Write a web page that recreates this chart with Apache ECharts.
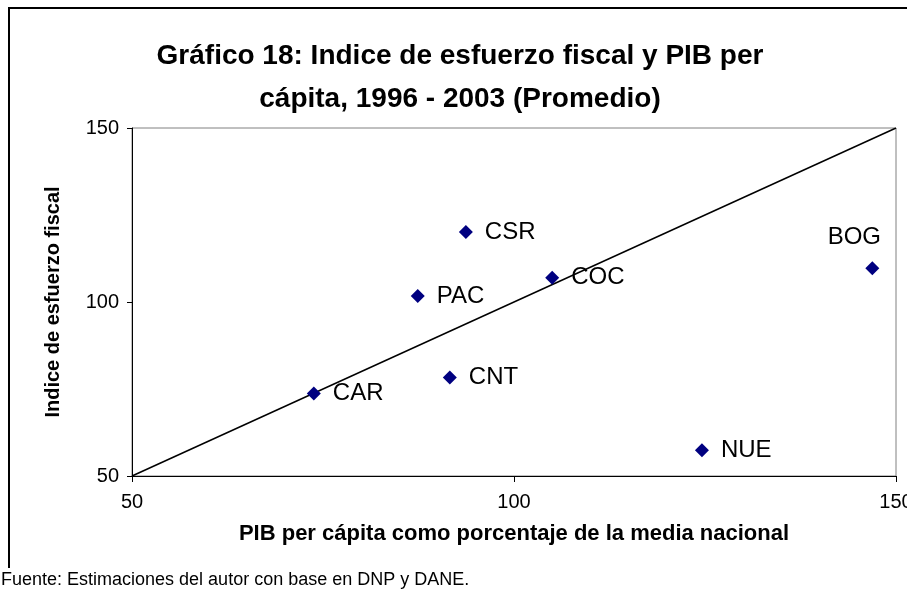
<!DOCTYPE html>
<html>
<head>
<meta charset="utf-8">
<script src="https://cdn.jsdelivr.net/npm/echarts@6/dist/echarts.min.js"></script>
<style>
  html, body { margin: 0; padding: 0; background: #fff; }
  #chart { width: 907px; height: 592px; }
</style>
</head>
<body>
<div id="chart"></div>
<script>
// regiones
const names = ['CAR', 'PAC', 'CSR', 'CNT', 'COC', 'NUE', 'BOG']
// PIB per cápita (% media nacional)
const pibValues = [73.8, 87.4, 93.7, 91.6, 105.0, 124.6, 146.9]
// índice de esfuerzo fiscal
const esfuerzoValues = [73.7, 101.7, 120.1, 78.3, 107.0, 57.4, 109.7]
// línea de 45 grados
const lineX = [50, 150]
const lineY = [50, 150]
const tickValues = [50, 100, 150]

const font = 'Liberation Sans, Arial, sans-serif'
const chart = echarts.init(document.getElementById('chart'))

const points = names.map((name, i) => {
  const item = { name: name, value: [pibValues[i], esfuerzoValues[i]] }
  // BOG lleva la etiqueta arriba
  if (name === 'BOG') item.label = { position: 'top', offset: [-18, 0] }
  return item
})

const option = {
  backgroundColor: '#fff',
  animation: false,
  title: {
    text: 'Gráfico 18: Indice de esfuerzo fiscal y PIB per\ncápita, 1996 - 2003 (Promedio)',
    left: 455,
    top: 30,
    textAlign: 'center',
    textStyle: { fontFamily: font, fontSize: 28, fontWeight: 'bold', color: '#000', lineHeight: 43 }
  },
  grid: {
    left: 132,
    right: 11,
    top: 128,
    bottom: 116,
    outerBoundsMode: 'none',
    containLabel: false,
    show: true,
    borderColor: '#808080',
    borderWidth: 1,
    backgroundColor: '#fff'
  },
  xAxis: {
    type: 'value',
    min: tickValues[0],
    max: tickValues[tickValues.length - 1],
    interval: 50,
    name: 'PIB per cápita como porcentaje de la media nacional',
    nameLocation: 'middle',
    nameGap: 47,
    nameTextStyle: { fontFamily: font, fontSize: 22, fontWeight: 'bold', color: '#000' },
    axisLine: { show: true, lineStyle: { color: '#000', width: 1 } },
    axisTick: { show: true, length: 6, lineStyle: { color: '#000' } },
    axisLabel: { fontFamily: font, fontSize: 20, color: '#000', margin: 16, showMaxLabel: true },
    splitLine: { show: false }
  },
  yAxis: {
    type: 'value',
    min: tickValues[0],
    max: tickValues[tickValues.length - 1],
    interval: 50,
    name: 'Indice de esfuerzo fiscal',
    nameLocation: 'middle',
    nameGap: 69,
    nameTextStyle: { fontFamily: font, fontSize: 20, fontWeight: 'bold', color: '#000' },
    axisLine: { show: true, lineStyle: { color: '#000', width: 1 } },
    axisTick: { show: true, length: 5, lineStyle: { color: '#000' } },
    axisLabel: { fontFamily: font, fontSize: 20, color: '#000', margin: 13 },
    splitLine: { show: false }
  },
  graphic: [
    {
      // marco exterior: solo izquierda y arriba se ven
      type: 'polyline',
      shape: { points: [[9, 568], [9, 8], [907, 8]] },
      style: { fill: 'none', stroke: '#000', lineWidth: 2 },
      z: -1
    },
    {
      type: 'text',
      left: 1,
      top: 571,
      style: {
        text: 'Fuente: Estimaciones del autor con base en DNP y DANE.',
        fontFamily: font,
        fontSize: 18,
        fill: '#000'
      }
    }
  ],
  series: [
    {
      type: 'line',
      data: lineX.map((x, i) => [x, lineY[i]]),
      showSymbol: false,
      lineStyle: { color: '#000', width: 1.5 },
      silent: true,
      z: 1
    },
    {
      type: 'scatter',
      data: points,
      symbol: 'diamond',
      symbolSize: 14,
      itemStyle: { color: '#000080', opacity: 1 },
      label: {
        show: true,
        position: 'right',
        distance: 12,
        formatter: '{b}',
        fontFamily: font,
        fontSize: 24,
        color: '#000',
        opacity: 1
      },
      z: 2
    }
  ]
}

chart.setOption(option)
</script>
</body>
</html>
